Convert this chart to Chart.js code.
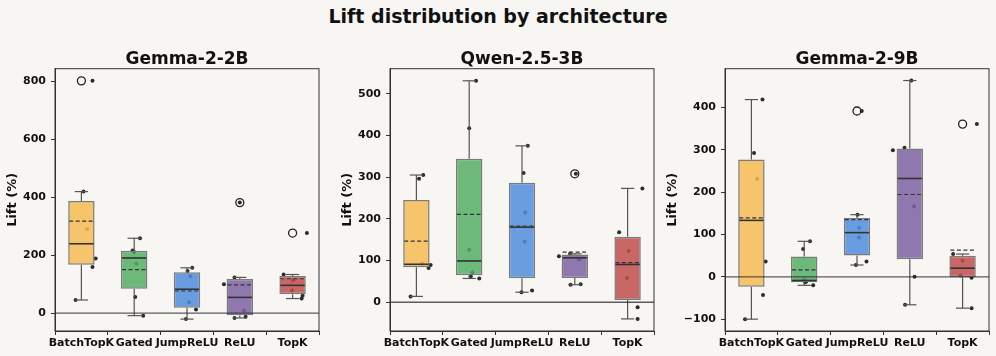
<!DOCTYPE html>
<html>
<head>
<meta charset="utf-8">
<script src="https://cdn.jsdelivr.net/npm/chart.js@4.4.1/dist/chart.umd.min.js"></script>
<style>
  body { margin: 0; background: #f7f6f2; width: 996px; height: 356px; overflow: hidden; position: relative; font-family: 'DejaVu Sans', sans-serif; }
  #title { position: absolute; top: 5px; left: 0; width: 996px; text-align: center; font-weight: bold; font-size: 19px; line-height: 22px; color: #111; }
  .panel { position: absolute; top: 0; height: 356px; }
</style>
</head>
<body>
<div id="title">Lift distribution by architecture</div>
<div class="panel" style="left:0;width:330px"><canvas id="c0"></canvas></div>
<div class="panel" style="left:330px;width:336px"><canvas id="c1"></canvas></div>
<div class="panel" style="left:660px;width:336px"><canvas id="c2"></canvas></div>
<script>
"use strict";

const categories = ['BatchTopK', 'Gated', 'JumpReLU', 'ReLU', 'TopK'];
const models = ['Gemma-2-2B', 'Qwen-2.5-3B', 'Gemma-2-9B'];

// lift (%) of the six runs per architecture
const gemma2bLift = [
    [801, 419, 290, 188, 159, 45],
    [258, 216, 210, 170, 55, -9],
    [156, 145, 127, 37, 12, -21],
    [381, 123, 99, 9, -13, -17],
    [276, 133, 113, 78, 60, 50]
];
const qwen3bLift = [
    [305, 296, 93, 89, 82, 14],
    [531, 417, 126, 72, 62, 57],
    [375, 310, 215, 145, 28, 24],
    [308, 116, 110, 103, 43, 42],
    [273, 168, 123, 58, -12, -40]
];
const gemma9bLift = [
    [419, 293, 231, 36, -43, -100],
    [84, 66, -6, -11, -13, -20],
    [392, 147, 116, 93, 36, 28],
    [464, 305, 299, 166, 0, -66],
    [361, 54, 38, 3, -2, -74]
];

// horizontal jitter of each run's dot (fraction of a category)
const gemma2bJitter = [
    [0.21, 0.04, 0.11, 0.27, 0.21, -0.11],
    [0.11, -0.03, 0.0, 0.04, 0.02, 0.17],
    [0.10, 0.01, 0.06, 0.04, 0.17, -0.02],
    [0.0, -0.10, -0.30, 0.08, 0.11, -0.10],
    [0.27, -0.17, 0.01, -0.01, 0.19, 0.17]
];
const qwen3bJitter = [
    [0.13, 0.05, 0.11, 0.27, 0.23, -0.11],
    [0.13, 0.0, 0.0, 0.06, 0.03, 0.19],
    [0.11, 0.03, 0.06, 0.05, 0.19, -0.01],
    [0.02, -0.09, -0.30, 0.08, 0.11, -0.08],
    [0.28, -0.16, 0.02, -0.01, 0.19, 0.19]
];
const gemma9bJitter = [
    [0.21, 0.05, 0.11, 0.27, 0.22, -0.12],
    [0.11, -0.02, 0.0, 0.04, 0.02, 0.17],
    [0.09, 0.01, 0.04, 0.04, 0.18, -0.02],
    [0.03, -0.10, -0.32, 0.08, 0.09, -0.09],
    [0.27, -0.18, 0.0, -0.04, 0.17, 0.17]
];

const yTicks = [
    [0, 200, 400, 600, 800],
    [0, 100, 200, 300, 400, 500],
    [-100, 0, 100, 200, 300, 400]
];
const yMin = [-62, -69, -128];
const yMax = [843, 560, 492];

const boxColors = ['rgba(245,187,84,0.85)', 'rgba(84,174,101,0.85)', 'rgba(81,141,221,0.85)',
                   'rgba(125,97,161,0.85)', 'rgba(193,77,77,0.85)'];

const lifts = [gemma2bLift, qwen3bLift, gemma9bLift];
const jitters = [gemma2bJitter, qwen3bJitter, gemma9bJitter];

// panel geometry: y axis width, ylabel offset, right padding
const panelLayout = [
    { yWidth: 55, titlePad: 5, right: 11 },
    { yWidth: 60, titlePad: 10, right: 12 },
    { yWidth: 65, titlePad: 5, right: 7 }
];

Chart.defaults.font.family = "'DejaVu Sans', sans-serif";
Chart.defaults.font.weight = 'bold';
Chart.defaults.color = '#111';

function quantile(s, p) {
    const h = (s.length - 1) * p;
    const lo = Math.floor(h);
    const hi = Math.min(lo + 1, s.length - 1);
    return s[lo] + (h - lo) * (s[hi] - s[lo]);
}

function boxStats(vals) {
    const s = vals.slice().sort((a, b) => a - b);
    const q1 = quantile(s, 0.25), med = quantile(s, 0.5), q3 = quantile(s, 0.75);
    const iqr = q3 - q1;
    const inside = s.filter(v => v >= q1 - 1.5 * iqr && v <= q3 + 1.5 * iqr);
    return {
        q1, med, q3,
        lo: Math.min(...inside), hi: Math.max(...inside),
        mean: s.reduce((a, b) => a + b, 0) / s.length,
        outliers: s.filter(v => v < q1 - 1.5 * iqr || v > q3 + 1.5 * iqr)
    };
}

const boxParts = {
    id: 'boxParts',
    afterDatasetsDraw(chart, args, opts) {
        const ctx = chart.ctx, a = chart.chartArea;
        const x = chart.scales.x, y = chart.scales.y;
        const line = (x1, y1, x2, y2) => { ctx.beginPath(); ctx.moveTo(x1, y1); ctx.lineTo(x2, y2); ctx.stroke(); };
        ctx.save();
        opts.stats.forEach((s, i) => {
            const cx = x.getPixelForValue(i);
            const hw = x.getPixelForValue(i + 0.25) - cx;
            const cw = hw / 2;
            ctx.strokeStyle = '#555';
            ctx.lineWidth = 1.2;
            ctx.setLineDash([]);
            line(cx, y.getPixelForValue(s.q3), cx, y.getPixelForValue(s.hi));
            line(cx, y.getPixelForValue(s.q1), cx, y.getPixelForValue(s.lo));
            line(cx - cw, y.getPixelForValue(s.hi), cx + cw, y.getPixelForValue(s.hi));
            line(cx - cw, y.getPixelForValue(s.lo), cx + cw, y.getPixelForValue(s.lo));
            ctx.strokeStyle = '#333';
            ctx.lineWidth = 1.6;
            line(cx - hw + 1, y.getPixelForValue(s.med), cx + hw - 1, y.getPixelForValue(s.med));
            ctx.lineWidth = 1.2;
            ctx.setLineDash([4, 2.5]);
            line(cx - hw + 1, y.getPixelForValue(s.mean), cx + hw - 1, y.getPixelForValue(s.mean));
        });
        ctx.setLineDash([]);
        ctx.strokeStyle = 'rgba(40,40,40,0.75)';
        ctx.lineWidth = 1.3;
        const y0 = y.getPixelForValue(0);
        line(a.left, y0, a.right, y0);
        ctx.strokeStyle = '#333';
        ctx.lineWidth = 1;
        ctx.strokeRect(a.left, a.top, a.right - a.left, a.bottom - a.top);
        ctx.restore();
    }
};

function makePanel(p) {
    const lift = lifts[p], jit = jitters[p], lay = panelLayout[p];
    const stats = lift.map(boxStats);
    const points = [];
    lift.forEach((vals, i) => vals.forEach((v, k) => points.push({ x: i + jit[i][k], y: v })));
    const boxes = stats.map((s, i) => ({ x: i, y: [s.q1, s.q3] }));
    const outliers = [];
    stats.forEach((s, i) => s.outliers.forEach(v => outliers.push({ x: i, y: v })));

    new Chart(document.getElementById('c' + p), {
        type: 'scatter',
        data: {
            datasets: [
                { type: 'scatter', data: points, pointRadius: 2, pointBackgroundColor: '#2b2b2b',
                  pointBorderWidth: 0, order: 3 },
                { type: 'bar', data: boxes, backgroundColor: boxColors, borderColor: '#7b7b7b',
                  borderWidth: 1.5, borderSkipped: false, barPercentage: 0.5, categoryPercentage: 1, order: 2 },
                { type: 'scatter', data: outliers, pointRadius: 4, pointBackgroundColor: 'rgba(0,0,0,0)',
                  pointBorderColor: '#222', pointBorderWidth: 1.3, order: 1 }
            ]
        },
        options: {
            responsive: true,
            maintainAspectRatio: false,
            animation: false,
            events: [],
            layout: { padding: { left: 0, right: lay.right, top: 0, bottom: 0 } },
            plugins: {
                legend: { display: false },
                tooltip: { enabled: false },
                title: { display: true, text: models[p], fullSize: false, color: '#111',
                         font: { size: 17, weight: 'bold', lineHeight: 1.1 }, padding: { top: 50, bottom: 0 } },
                boxParts: { stats }
            },
            scales: {
                x: {
                    type: 'linear', min: -0.5, max: 4.5, bounds: 'data', offset: false,
                    afterBuildTicks: s => { s.ticks = categories.map((c, i) => ({ value: i })); },
                    afterFit: s => { s.height = 25; },
                    ticks: { callback: v => categories[v], font: { size: 11, weight: 'bold' }, color: '#111',
                             padding: 2, maxRotation: 0, autoSkip: false },
                    grid: { display: true, drawOnChartArea: false, drawTicks: true, tickLength: 4, color: '#333' },
                    border: { display: true, color: '#333', width: 1 }
                },
                y: {
                    type: 'linear', min: yMin[p], max: yMax[p], bounds: 'data',
                    afterBuildTicks: s => { s.ticks = yTicks[p].map(v => ({ value: v })); },
                    afterFit: s => { s.width = lay.yWidth; },
                    ticks: { callback: v => v < 0 ? '\u2212' + Math.abs(v) : String(v),
                             font: { size: 11, weight: 'bold' }, color: '#111', padding: 5 },
                    grid: { display: true, drawOnChartArea: false, drawTicks: true, tickLength: 4, color: '#333' },
                    border: { display: true, color: '#333', width: 1 },
                    title: { display: true, text: 'Lift (%)', color: '#111',
                             font: { size: 13, weight: 'bold' }, padding: { top: lay.titlePad, bottom: 0 } }
                }
            }
        },
        plugins: [boxParts]
    });
}

[0, 1, 2].forEach(makePanel);
</script>
</body>
</html>
